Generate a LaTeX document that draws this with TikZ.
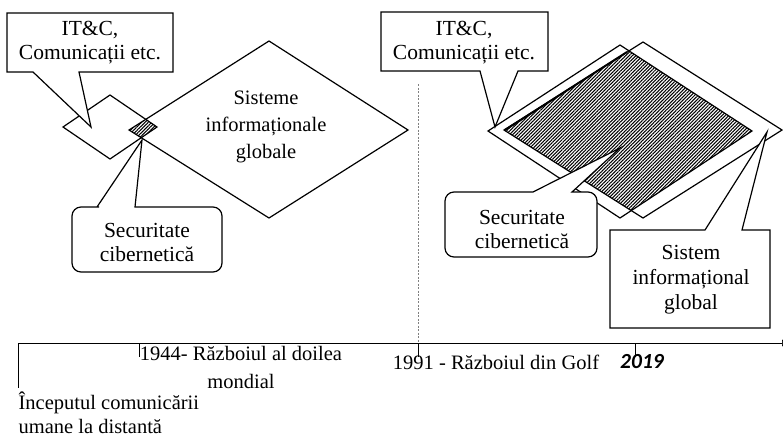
\documentclass[tikz,border=0pt]{standalone}
\usepackage{fontspec}
\setmainfont{Liberation Serif}
\newfontfamily\yearfont{Carlito}
\usetikzlibrary{patterns.meta,arrows.meta}

\begin{document}
\begin{tikzpicture}[x=1pt, y=-1pt, >=latex, line width=1.2pt,
  txt/.style={align=center, inner sep=0pt, font=\fontsize{21.5}{24}\selectfont},
  box/.style={draw, fill=white},
  hatch/.style={pattern={Lines[angle=45, distance=2.4pt, line width=1.05pt]}},
  tick/.style={line width=0.6pt}]
\useasboundingbox (0,0) rectangle (783,437);

% left: two diamonds and their common part
\begin{scope}
\clip (63,127) -- (110,95) -- (157,127) -- (110,159) -- cycle;
\fill[hatch] (129,130) -- (269,41) -- (408,130) -- (269,218) -- cycle;
\end{scope}
\draw (63,127) -- (110,95) -- (157,127) -- (110,159) -- cycle;
\draw (129,130) -- (269,41) -- (408,130) -- (269,218) -- cycle;

% right: two diamonds and their common part
\begin{scope}
\clip (488,131) -- (620,45) -- (752,131) -- (620,218) -- cycle;
\fill[hatch] (504,130) -- (643,42) -- (782,130) -- (643,218) -- cycle;
\end{scope}
\draw (488,131) -- (620,45) -- (752,131) -- (620,218) -- cycle;
\draw (504,130) -- (643,42) -- (782,130) -- (643,218) -- cycle;
\draw[line width=2pt] (505,130) -- (627,52);

% pointer tips
\coordinate (pItcL) at (91,127);
\coordinate (pSecL) at (142,140);
\coordinate (pItcR) at (495,127);
\coordinate (pSecR) at (620,148);
\coordinate (pSisR) at (767,132);

% callouts
\draw[box] (7,13) -- (173,13) -- (173,72) -- (79,72) -- (pItcL) -- (33,72) -- (7,72) -- cycle;
\draw[box] (97,207) -- (pSecL) -- (135,207) -- (180,207) [rounded corners=9pt]
  -- (222,207) -- (222,272) -- (72,272) -- (72,207) -- (90,207) [sharp corners] -- cycle;
\draw[box] (381,12) -- (548,12) -- (548,71) -- (518,71) -- (pItcR) -- (480,71) -- (381,71) -- cycle;
\draw[box] (533,192) -- (pSecR) -- (572,192) -- (580,192) [rounded corners=9pt]
  -- (597,192) -- (597,257) -- (445,257) -- (445,192) -- (500,192) [sharp corners] -- cycle;
\draw[box] (610,230) -- (705,230) -- (pSisR) -- (742,230) -- (770,230) -- (770,328) -- (610,328) -- cycle;

\node[txt] (itcL) at (90,43) {IT\&C,\\Comunicații etc.};
\node[txt] (secL) at (147,242) {Securitate\\cibernetică};
\node[txt, font=\fontsize{20.5}{27}\selectfont] (sigL) at (266,127) {Sisteme\\informaționale\\globale};
\node[txt] (itcR) at (464,43) {IT\&C,\\Comunicații etc.};
\node[txt] (secR) at (522,229) {Securitate\\cibernetică};
\node[txt, font=\fontsize{21.5}{25}\selectfont] (sisR) at (691,280) {Sistem\\informațional\\global};

% timeline
\coordinate (t0) at (18,343);
\coordinate (t1) at (139,343);
\coordinate (t2) at (418,343);
\coordinate (t3) at (635,343);
\coordinate (tEnd) at (791,343);
\draw[tick, -{Latex[length=9pt,width=7pt]}] (t0) -- (tEnd);
\draw[tick] (t0) -- ++(0,45);
\draw[tick] (t1) -- ++(0,14);
\draw[tick] (t2) -- ++(0,14);
\draw[tick] (t3) -- ++(0,14);
\draw[tick, dashed, gray, dash pattern=on 2pt off 1.5pt] (418,84) -- (t2);

\node[txt, font=\fontsize{20.5}{28}\selectfont] (e1944) at (241,367) {1944- Războiul al doilea\\mondial};
\node[txt, align=left, anchor=west, font=\fontsize{20.5}{24}\selectfont] (e0) at (18,413) {Începutul comunicării\\umane la distantă};
\node[txt, font=\fontsize{20.5}{24}\selectfont] (e1991) at (496,362) {1991 - Războiul din Golf};
\node[txt, font=\fontsize{21.5}{24}\selectfont\yearfont\bfseries\itshape] (e2019) at (642,362) {2019};
\end{tikzpicture}
\end{document}
